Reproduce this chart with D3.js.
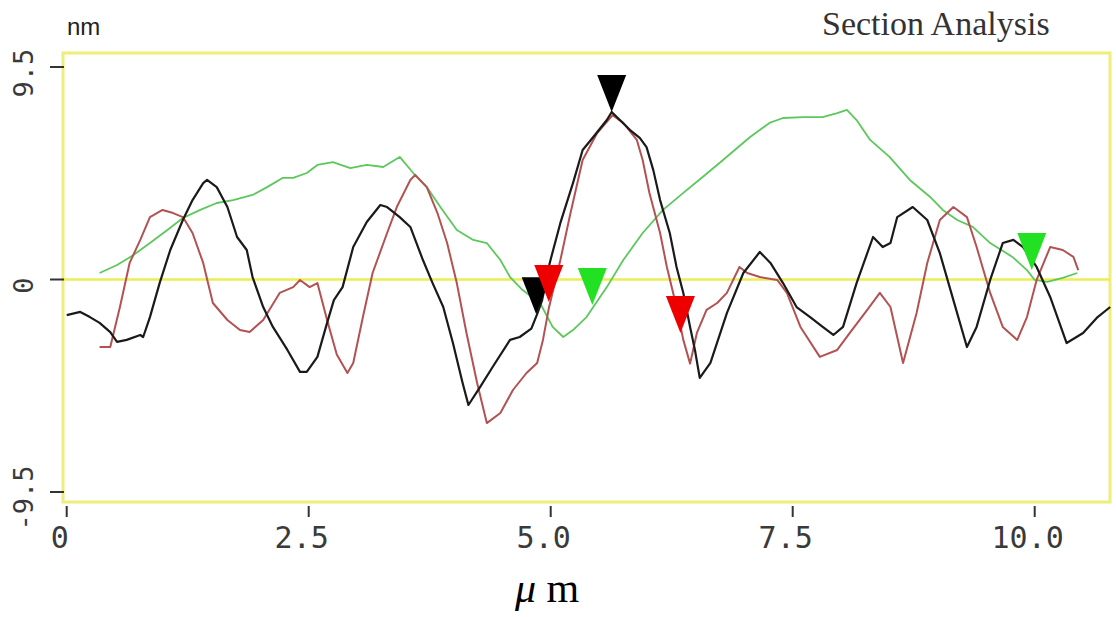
<!DOCTYPE html>
<html>
<head>
<meta charset="utf-8">
<script src="https://cdn.jsdelivr.net/npm/d3@7"></script>
<style>
  html, body { margin: 0; padding: 0; background: #ffffff; }
  svg { display: block; }
</style>
</head>
<body>
<svg id="chart" width="1116" height="617"></svg>
<script>
// Section profiles: position along the section (µm) and height (nm)
const blackX = [0.00,0.14,0.24,0.34,0.45,0.52,0.62,0.76,0.79,0.86,0.96,1.07,1.20,1.30,1.41,1.45,1.55,1.66,1.76,1.86,1.92,2.03,2.13,2.28,2.41,2.48,2.59,2.69,2.76,2.85,2.96,3.10,3.24,3.31,3.44,3.55,3.68,3.78,3.89,3.99,4.09,4.15,4.27,4.40,4.58,4.68,4.80,4.86,4.91,4.99,5.10,5.23,5.33,5.44,5.58,5.63,5.82,5.92,5.99,6.06,6.13,6.23,6.30,6.37,6.44,6.49,6.54,6.65,6.82,6.99,7.16,7.27,7.40,7.54,7.68,7.81,7.92,8.02,8.16,8.33,8.43,8.51,8.58,8.74,8.89,9.02,9.16,9.30,9.40,9.54,9.67,9.78,9.88,10.02,10.16,10.33,10.50,10.65,10.78];
const blackH = [-1.59,-1.45,-1.68,-1.94,-2.35,-2.79,-2.70,-2.48,-2.57,-1.68,-0.16,1.32,2.66,3.55,4.31,4.45,4.13,3.24,1.90,1.32,0.11,-1.23,-2.12,-3.15,-4.13,-4.13,-3.46,-1.94,-0.92,-0.34,1.45,2.57,3.33,3.24,2.79,2.35,0.87,-0.16,-1.23,-2.84,-4.63,-5.61,-4.81,-3.91,-2.70,-2.57,-2.20,-1.55,-0.95,0.74,2.53,4.31,5.79,6.37,7.13,7.49,6.68,6.33,5.92,4.89,3.55,2.08,0.56,-0.60,-2.12,-3.15,-4.40,-3.73,-1.50,0.29,1.23,0.74,-0.16,-1.23,-1.68,-2.12,-2.48,-2.12,-0.16,1.90,1.45,1.63,2.79,3.24,2.66,1.18,-0.92,-3.02,-2.12,-0.02,1.63,1.77,1.45,0.56,-0.78,-2.84,-2.39,-1.68,-1.23];

const redX = [0.34,0.45,0.55,0.65,0.76,0.86,0.99,1.10,1.20,1.30,1.41,1.51,1.66,1.79,1.89,2.03,2.20,2.34,2.41,2.51,2.59,2.69,2.79,2.90,2.96,3.06,3.16,3.31,3.41,3.55,3.60,3.72,3.83,3.93,4.03,4.13,4.24,4.34,4.48,4.61,4.75,4.86,4.92,4.98,5.10,5.20,5.33,5.48,5.64,5.75,5.89,5.95,6.02,6.13,6.20,6.30,6.37,6.44,6.51,6.61,6.72,6.82,6.95,7.03,7.16,7.34,7.44,7.58,7.78,7.96,8.09,8.27,8.40,8.51,8.64,8.78,8.89,9.02,9.16,9.30,9.40,9.54,9.67,9.82,9.92,10.02,10.16,10.29,10.40,10.45];
const redH = [-3.02,-3.02,-1.23,0.74,1.77,2.79,3.11,2.97,2.79,2.08,0.74,-1.05,-1.81,-2.26,-2.35,-1.81,-0.60,-0.34,-0.02,-0.34,-0.16,-1.81,-3.35,-4.18,-3.73,-1.68,0.29,2.08,3.24,4.45,4.67,4.13,2.97,1.63,-0.16,-2.39,-4.63,-6.42,-5.97,-4.94,-4.18,-3.73,-2.70,-1.30,0.87,2.88,5.34,6.55,7.35,7.00,6.24,5.34,3.87,2.08,0.56,-1.23,-2.70,-3.76,-2.39,-1.36,-1.05,-0.60,0.56,0.29,0.11,-0.02,-0.60,-2.12,-3.46,-3.15,-2.39,-1.36,-0.60,-1.23,-3.73,-1.50,0.74,2.66,3.24,2.79,1.45,-0.60,-2.12,-2.70,-1.68,-0.02,1.45,1.32,1.01,0.42];

const greenX = [0.34,0.52,0.69,0.86,1.04,1.20,1.38,1.55,1.72,1.92,2.07,2.23,2.34,2.48,2.59,2.75,2.93,3.10,3.27,3.44,3.58,3.72,3.86,4.03,4.20,4.34,4.48,4.58,4.71,4.89,5.02,5.13,5.23,5.37,5.44,5.58,5.75,5.95,6.16,6.37,6.57,6.78,7.06,7.26,7.40,7.61,7.81,7.96,8.06,8.16,8.30,8.50,8.71,8.92,9.05,9.20,9.36,9.54,9.77,9.92,10.00,10.13,10.29,10.44];
const greenH = [0.29,0.65,1.10,1.63,2.21,2.75,3.11,3.42,3.55,3.78,4.13,4.54,4.54,4.76,5.12,5.25,4.98,5.12,5.03,5.48,4.76,4.13,3.24,2.21,1.77,1.63,0.87,0.11,-0.47,-1.05,-2.12,-2.57,-2.26,-1.68,-1.23,-0.34,0.87,2.08,3.11,3.87,4.58,5.34,6.37,7.00,7.22,7.26,7.26,7.44,7.58,7.13,6.24,5.48,4.45,3.69,3.11,2.66,2.35,1.63,1.01,0.42,-0.02,-0.11,0.07,0.29];

// Cursor markers placed on the profiles
const markerX = [4.85, 5.63, 4.98, 6.34, 5.43, 9.97];
const markerH = [-1.55, 7.49, -1.01, -2.39, -1.14, 0.42];
const markerColor = ["#000000", "#000000", "#ee0000", "#ee0000", "#22e022", "#22e022"];

// Axis ticks
const xTicks = [0, 2.5, 5.0, 7.5, 10.0];
const xTickLabels = ["0", "2.5", "5.0", "7.5", "10.0"];
const yTicks = [9.5, 0, -9.5];
const yTickLabels = ["9.5", "0", "-9.5"];

const svg = d3.select("#chart");

const x = d3.scaleLinear().domain([0, 10.8]).range([66.7, 66.7 + 10.8 * 96.8]);
const y = d3.scaleLinear().domain([-9.5, 9.5]).range([492, 67]);

const frame = { left: 63, right: 1110, top: 53, bottom: 502 };
const yellow = "#eeee7a";

// Plot frame
svg.append("rect")
  .attr("x", frame.left).attr("y", frame.top)
  .attr("width", frame.right - frame.left).attr("height", frame.bottom - frame.top)
  .attr("fill", "none").attr("stroke", yellow).attr("stroke-width", 3);

// Zero reference line
svg.append("line")
  .attr("x1", frame.left).attr("x2", frame.right)
  .attr("y1", y(0)).attr("y2", y(0))
  .attr("stroke", "#ecec55").attr("stroke-width", 2.5);

// X axis ticks and labels
const xAxis = svg.append("g");
xAxis.selectAll("line").data(xTicks).join("line")
  .attr("x1", d => x(d)).attr("x2", d => x(d))
  .attr("y1", frame.bottom + 4).attr("y2", frame.bottom + 15)
  .attr("stroke", "#333").attr("stroke-width", 2);
xAxis.selectAll("text").data(xTicks).join("text")
  .attr("x", d => x(d) - 7).attr("y", 548)
  .attr("text-anchor", "middle")
  .attr("font-family", "DejaVu Sans Mono, monospace")
  .attr("font-size", 30)
  .attr("fill", "#3a3a3a")
  .text((d, i) => xTickLabels[i]);

// Y axis ticks and labels
const yAxis = svg.append("g");
yAxis.selectAll("line").data(yTicks).join("line")
  .attr("x1", 50).attr("x2", 64)
  .attr("y1", d => y(d)).attr("y2", d => y(d))
  .attr("stroke", "#333").attr("stroke-width", 2);
yAxis.selectAll("text").data(yTicks).join("text")
  .attr("transform", d => `translate(33,${y(d) + 6}) rotate(-90)`)
  .attr("text-anchor", "middle")
  .attr("font-family", "DejaVu Sans Mono, monospace")
  .attr("font-size", 27)
  .attr("fill", "#3a3a3a")
  .text((d, i) => yTickLabels[i]);

// Unit and title texts
svg.append("text")
  .attr("x", 67).attr("y", 35)
  .attr("font-family", "Liberation Sans, Arial, sans-serif")
  .attr("font-size", 24).attr("fill", "#222")
  .text("nm");

svg.append("text")
  .attr("x", 822).attr("y", 35)
  .attr("font-family", "Liberation Serif, Times New Roman, serif")
  .attr("font-size", 34).attr("fill", "#333")
  .text("Section Analysis");

const unit = svg.append("text")
  .attr("x", 515).attr("y", 602)
  .attr("font-family", "Liberation Serif, Times New Roman, serif")
  .attr("font-size", 42).attr("fill", "#000");
unit.append("tspan").attr("font-style", "italic").text("μ");
unit.append("tspan").text(" m");

// Profiles
const line = d3.line().x(d => x(d[0])).y(d => y(d[1])).curve(d3.curveLinear);
const series = [
  { xs: greenX, hs: greenH, color: "#5cc85c", width: 1.8 },
  { xs: redX, hs: redH, color: "#b25252", width: 2 },
  { xs: blackX, hs: blackH, color: "#1a1a1a", width: 2.2 }
];
series.forEach(s => {
  svg.append("path")
    .datum(d3.zip(s.xs, s.hs))
    .attr("d", line)
    .attr("fill", "none")
    .attr("stroke", s.color)
    .attr("stroke-width", s.width)
    .attr("stroke-linejoin", "round");
});

// Down-pointing cursor triangles, tip on the profile
const triW = 29, triH = 37;
svg.append("g").selectAll("path")
  .data(d3.range(markerX.length))
  .join("path")
  .attr("d", i => {
    const px = x(markerX[i]), py = y(markerH[i]);
    return `M${px},${py}L${px - triW / 2},${py - triH}L${px + triW / 2},${py - triH}Z`;
  })
  .attr("fill", i => markerColor[i]);
</script>
</body>
</html>
